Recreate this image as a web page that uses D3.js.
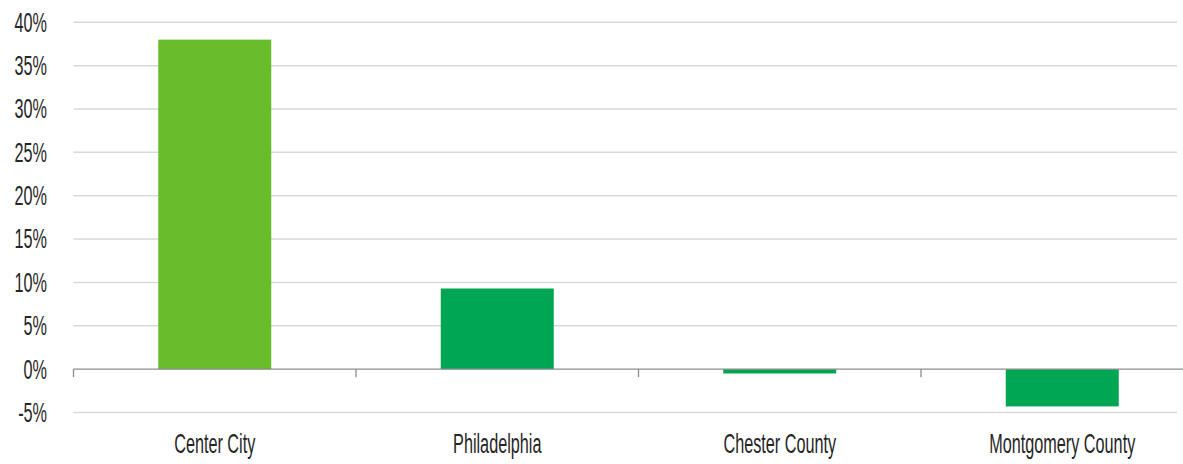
<!DOCTYPE html>
<html><head><meta charset="utf-8">
<script src="https://cdn.jsdelivr.net/npm/d3@7"></script>
<style>body{margin:0;background:#fff}text{font-family:"Liberation Sans",Arial,sans-serif;fill:#262626}</style>
</head><body><svg id="c" width="1183" height="464"></svg>
<script>
const categories = ["Center City","Philadelphia","Chester County","Montgomery County"];
const values = [38.0, 9.3, -0.5, -4.3];
const barColors = ["#6abd2a","#00a651","#00a651","#00a651"];
const yTicks = [-5,0,5,10,15,20,25,30,35,40];

const svg = d3.select("#c");
const left = 73.5, gridRight = 1177;
const x = d3.scaleBand().domain(categories).range([left, left + 282.5*4]).padding(0);
const y = d3.scaleLinear().domain([-5,40]).range([412.5, 22.3]);
const SX = 0.59, FS = "27.5px";

// gridlines
svg.append("g").selectAll("line").data(yTicks.filter(d=>d!==0)).join("line")
  .attr("x1", left).attr("x2", gridRight).attr("y1", d=>y(d)).attr("y2", d=>y(d))
  .attr("stroke","#d9d9d9").attr("stroke-width",1.5);

// y labels
svg.append("g").selectAll("text").data(yTicks).join("text")
  .attr("transform", d=>`translate(47,${y(d)}) scale(${SX},1)`)
  .attr("dy","0.34em").attr("text-anchor","end").style("font-size",FS)
  .text(d=>d+"%");

// bars
const bw = x.bandwidth()*0.4;
svg.append("g").selectAll("rect").data(values).join("rect")
  .attr("x",(d,i)=>x(categories[i]) + x.bandwidth()/2 - bw/2)
  .attr("width", bw)
  .attr("y", d=>y(Math.max(0,d)))
  .attr("height", d=>Math.abs(y(d)-y(0)))
  .attr("fill",(d,i)=>barColors[i]);

// zero axis
svg.append("line").attr("x1",left).attr("x2",1183).attr("y1",y(0)).attr("y2",y(0)).attr("stroke","#8c8c8c").attr("stroke-width",1.3);
const tickXs = [left].concat(categories.slice(1).map(c=>x(c)));
svg.append("g").selectAll("line").data(tickXs).join("line")
  .attr("x1",d=>d).attr("x2",d=>d).attr("y1",y(0)).attr("y2",y(0)+8)
  .attr("stroke","#8c8c8c").attr("stroke-width",1.3);

// x labels
svg.append("g").selectAll("text").data(categories).join("text")
  .attr("transform", d=>`translate(${x(d)+x.bandwidth()/2},453) scale(${SX},1)`)
  .attr("text-anchor","middle").style("font-size",FS).text(d=>d);
</script></body></html>
